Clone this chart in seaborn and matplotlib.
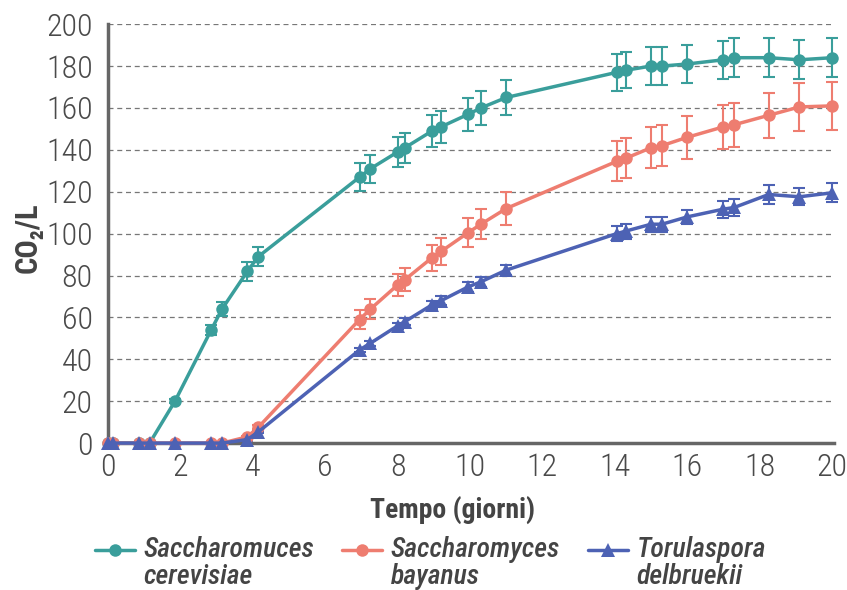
import numpy as np
import pandas as pd
import matplotlib
matplotlib.use('Agg')
import matplotlib.pyplot as plt
import seaborn as sns
from matplotlib.legend_handler import HandlerLine2D


# Sampling times (days) shared by the three strains
days = [0, 0.15, 0.85, 1.15, 1.85, 2.85, 3.15, 3.85, 4.15, 6.95, 7.25, 8.0, 8.2, 8.95,
        9.2, 9.95, 10.3, 11.0, 14.05, 14.3, 15.0, 15.3, 16.0, 17.0, 17.3, 18.25, 19.1, 20.0]

# CO2 produced (g/L) and error bars
cerevisiae = [0, 0, 0, 0, 20, 54, 64, 82, 89, 127, 131, 139, 141, 149,
              151, 157, 160, 165, 177, 178, 180, 180, 181, 183, 184, 184, 183, 184]
cerevisiae_err = [0, 0, 0, 0, 1, 2.5, 3.3, 4.4, 4.4, 6.6, 6.7, 7.2, 7.2, 7.5,
                  7.7, 7.9, 8.1, 8.3, 8.7, 8.7, 9, 9, 9, 9.2, 9.2, 9.3, 9.3, 9.4]

bayanus = [0, 0, 0, 0, 0, 0, 0, 3, 7.5, 59, 64, 75.5, 78, 88.5,
           91.5, 100.5, 104.5, 112, 134.5, 136, 141, 142, 146, 151, 152, 156.5, 160.5, 161]
bayanus_err = [0, 0, 0, 0, 0, 0, 0, 0.5, 1, 4.4, 4.8, 5.2, 5.5, 6.1,
               6.4, 7, 7.2, 7.9, 9.5, 9.5, 9.8, 9.8, 10.3, 10.6, 10.6, 10.8, 11.3, 11.3]

delbruekii = [0, 0, 0, 0, 0, 0, 0, 1.7, 5.3, 44.5, 47.7, 56, 58, 66,
              68, 74.6, 77, 82.6, 100, 101.2, 104.5, 104.5, 108, 111.7, 112.5, 118.7, 117.6, 119.5]
delbruekii_err = [0, 0, 0, 0, 0, 0, 0, 0.5, 0.5, 1, 1.2, 1.5, 1.5, 2,
                  2, 2.5, 2.5, 2.5, 3.6, 3.6, 3.5, 3.5, 3.5, 4, 4, 4.5, 4, 4.6]

labels = ['Saccharomuces\ncerevisiae', 'Saccharomyces\nbayanus', 'Torulaspora\ndelbruekii']
colors = ['#3a9e9b', '#ee7d70', '#4d62b4']
markers = ['o', 'o', '^']

x_ticks = list(range(0, 21, 2))
y_ticks = list(range(0, 201, 20))

sns.set_theme(style='white')
plt.rcParams['font.family'] = ['Roboto Condensed', 'DejaVu Sans']
plt.rcParams['font.stretch'] = 'condensed'

fig = plt.figure(figsize=(8.47, 5.90), dpi=100)
ax = fig.add_axes([0.1275, 0.249, 0.857, 0.710])

series = [(cerevisiae, cerevisiae_err), (bayanus, bayanus_err), (delbruekii, delbruekii_err)]
for (vals, errs), lab, col, mk in zip(series, labels, colors, markers):
    df = pd.DataFrame({'giorni': days, 'co2': vals, 'err': errs})
    sns.lineplot(data=df, x='giorni', y='co2', ax=ax, color=col, marker=mk,
                 markersize=9 if mk == 'o' else 10, markeredgecolor=col, markeredgewidth=0,
                 linewidth=2.5, label=lab, clip_on=False, zorder=3)
    sub = df[df['err'] > 0]
    ax.errorbar(sub['giorni'], sub['co2'], yerr=sub['err'], fmt='none', ecolor=col,
                elinewidth=1.5, capsize=4.5, capthick=1.5, zorder=2, clip_on=False)

ax.set_xlim(0, 20.05)
ax.set_ylim(0, 200)
ax.set_xticks(x_ticks)
ax.set_yticks(y_ticks)
ax.tick_params(axis='both', length=0, labelsize=23, colors='#4a4a4a')
ax.tick_params(axis='y', pad=11)
ax.tick_params(axis='x', pad=7)
for lbl in ax.get_xticklabels() + ax.get_yticklabels():
    lbl.set_fontweight('light')

ax.yaxis.grid(True, linestyle=(0, (4, 3)), color='#777777', linewidth=0.9)
ax.xaxis.grid(False)
for s in ['top', 'right']:
    ax.spines[s].set_visible(False)
for s in ['left', 'bottom']:
    ax.spines[s].set_color('#666666')
    ax.spines[s].set_linewidth(2.5)
    ax.spines[s].set_zorder(1)

ax.set_xlabel('Tempo (giorni)', fontsize=20, fontweight='bold', color='#444444')
ax.set_ylabel('CO₂/L', fontsize=22, fontweight='bold', color='#444444')
ax.xaxis.set_label_coords(0.475, -0.125)
ax.yaxis.set_label_coords(-0.09, 0.49)


# legend handle sits next to the first line of the two-line label
class TopHandler(HandlerLine2D):
    def create_artists(self, legend, orig_handle, xdescent, ydescent, width, height, fontsize, trans):
        arts = super().create_artists(legend, orig_handle, xdescent, ydescent, width, height, fontsize, trans)
        for a in arts:
            a.set_ydata(np.asarray(a.get_ydata()) + 0.5 * fontsize)
        return arts


handles, leg_labels = ax.get_legend_handles_labels()
leg = fig.legend(handles, leg_labels, loc='center left', bbox_to_anchor=(95 / 847, 0.046),
                 ncol=3, frameon=False, fontsize=20, handlelength=1.45, handletextpad=0.3,
                 columnspacing=1.0, borderpad=0, borderaxespad=0, numpoints=1,
                 handler_map={h: TopHandler() for h in handles})
for t in leg.get_texts():
    t.set_linespacing(1.0)
    t.set_fontstyle('italic')
    t.set_fontweight('medium')
    t.set_color('#444444')
if ax.get_legend() is not None:
    ax.get_legend().remove()

fig.savefig('out.png', dpi=100)
